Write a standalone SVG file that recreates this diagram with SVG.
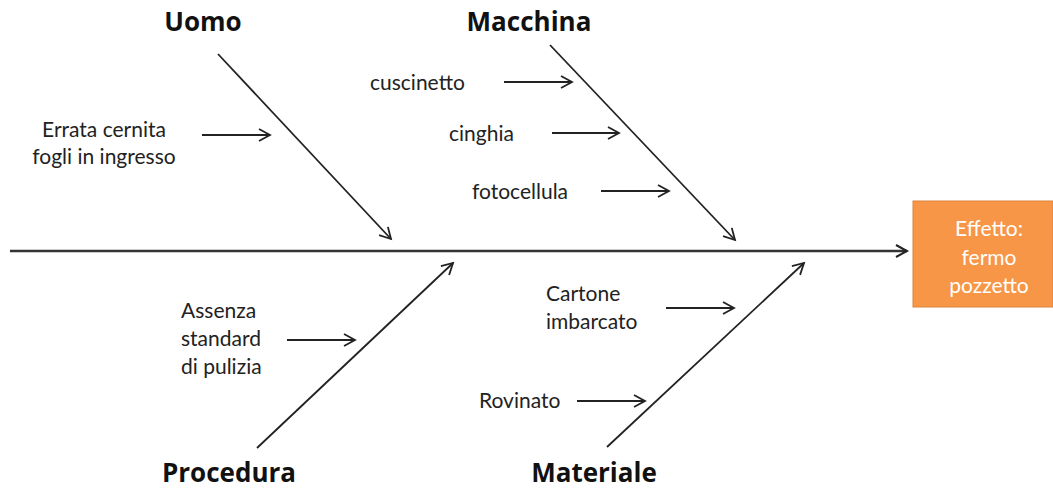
<svg xmlns="http://www.w3.org/2000/svg" width="1053" height="488" viewBox="0 0 1053 488">
<style>
.ln{stroke:#222;stroke-width:1.8;fill:none;marker-end:url(#ah)}
.sp{stroke:#333;stroke-width:2.6;fill:none;marker-end:url(#ah2)}
.t{font-family:Lato,"Open Sans",sans-serif;font-size:21px;fill:#222}
.h{font-family:"Open Sans",Lato,sans-serif;font-size:26px;font-weight:bold;fill:#111;text-anchor:middle}
.w{font-family:Lato,"Open Sans",sans-serif;font-size:21px;fill:#fff;text-anchor:middle}
</style>
<defs>
<marker id="ah" markerUnits="userSpaceOnUse" markerWidth="16" markerHeight="16" refX="12" refY="7" orient="auto" viewBox="0 0 16 14">
<path d="M1,1 L12,7 L1,13" fill="none" stroke="#222" stroke-width="1.8"/>
</marker>
<marker id="ah2" markerUnits="userSpaceOnUse" markerWidth="16" markerHeight="16" refX="12" refY="7" orient="auto" viewBox="0 0 16 14">
<path d="M1,1 L12,7 L1,13" fill="none" stroke="#222" stroke-width="2"/>
</marker>
</defs>
<rect width="1053" height="488" fill="#fff"/>
<g id="connectors">
<line class="sp" x1="10" y1="251" x2="907" y2="251"/>
<line class="ln" x1="218" y1="54" x2="391" y2="239"/>
<line class="ln" x1="550" y1="45" x2="735" y2="240"/>
<line class="ln" x1="257" y1="448" x2="453" y2="263"/>
<line class="ln" x1="607" y1="447" x2="804" y2="263"/>
<line class="ln" x1="202" y1="135" x2="270" y2="135"/>
<line class="ln" x1="504" y1="82" x2="572" y2="82"/>
<line class="ln" x1="552" y1="133" x2="619" y2="133"/>
<line class="ln" x1="601" y1="191" x2="669" y2="191"/>
<line class="ln" x1="287" y1="340" x2="355" y2="340"/>
<line class="ln" x1="666" y1="308" x2="734" y2="308"/>
<line class="ln" x1="577" y1="401" x2="645" y2="401"/>
</g>
<g id="effect">
<rect x="913" y="201" width="140" height="106" fill="#F79646" stroke="#E0823A" stroke-width="1"/>
<text class="w" x="989" y="236">Effetto:</text>
<text class="w" x="989" y="265">fermo</text>
<text class="w" x="989" y="293">pozzetto</text>
</g>
<g id="uomo">
<text class="h" x="203" y="31">Uomo</text>
<text class="t" x="104" y="137" text-anchor="middle">Errata cernita</text>
<text class="t" x="104" y="164" text-anchor="middle">fogli in ingresso</text>
</g>
<g id="macchina">
<text class="h" x="529" y="31">Macchina</text>
<text class="t" x="370" y="90">cuscinetto</text>
<text class="t" x="449" y="141">cinghia</text>
<text class="t" x="472" y="199">fotocellula</text>
</g>
<g id="procedura">
<text class="h" x="229" y="482">Procedura</text>
<text class="t" x="181" y="318">Assenza</text>
<text class="t" x="181" y="346">standard</text>
<text class="t" x="181" y="374">di pulizia</text>
</g>
<g id="materiale">
<text class="h" x="594" y="482">Materiale</text>
<text class="t" x="546" y="301">Cartone</text>
<text class="t" x="546" y="329">imbarcato</text>
<text class="t" x="479" y="408">Rovinato</text>
</g>
</svg>
